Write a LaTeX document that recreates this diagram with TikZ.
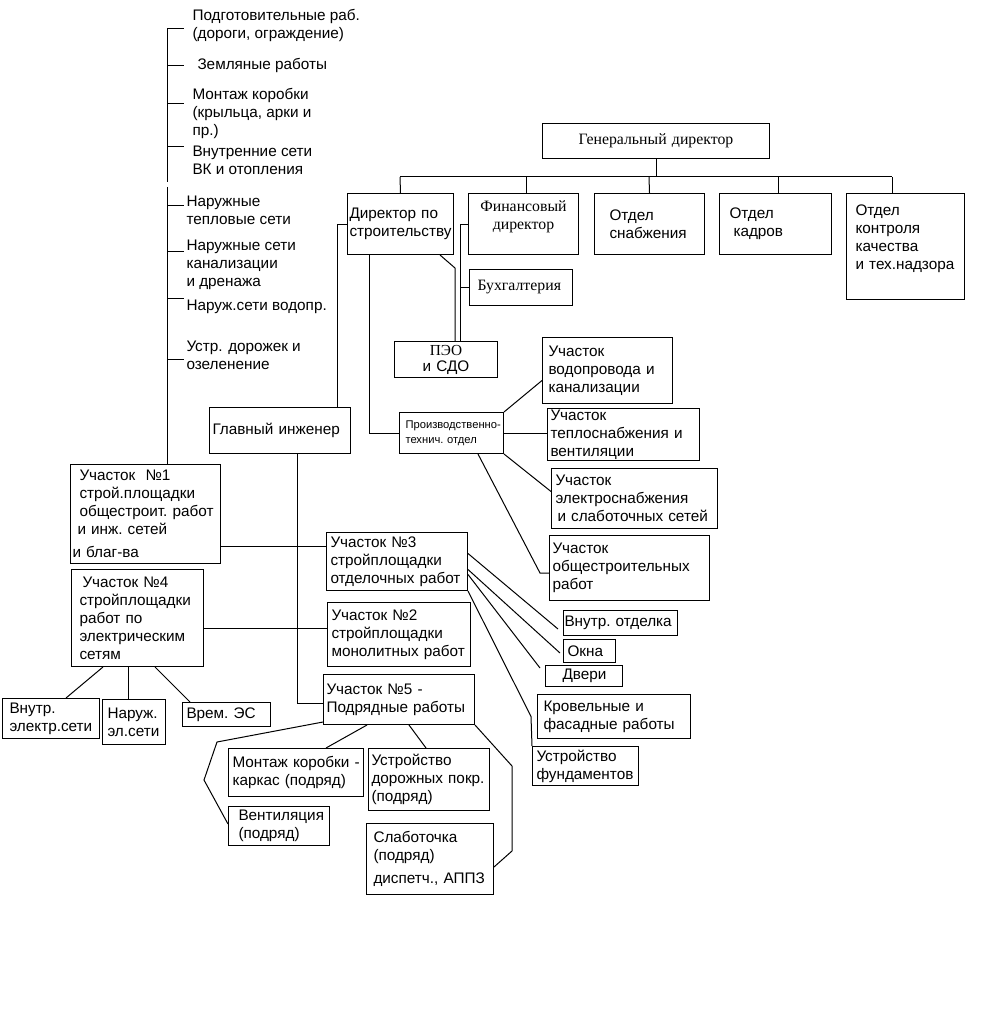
\documentclass[tikz,border=0pt]{standalone}
\usepackage{fontspec}
\setmainfont{Liberation Sans}
\newfontfamily\timesfont{Liberation Serif}
\usepackage{tikz}
\usetikzlibrary{positioning}

\tikzset{
  box/.style={draw, anchor=north west, align=left, inner ysep=0pt, font=\fontsize{15.3}{18}\selectfont},
  serifbox/.style={box, align=center, font=\fontsize{15.8}{18}\timesfont},
  item/.style={anchor=west, align=left, inner sep=0pt, font=\fontsize{15.3}{18}\selectfont},
}

\begin{document}
\begin{tikzpicture}[x=1pt, y=-1pt, line width=1pt]
                    \useasboundingbox (0,0) rectangle (992,1011);

                    \node[serifbox, text width=219pt, inner xsep=4pt, minimum height=35pt] (gd) at (542,123) {Генеральный~директор};
                    \node[box, text width=102pt, inner xsep=2pt, minimum height=61pt] (dirstr) at (347,193) {Директор~по\\строительству};
                    \node[serifbox, text width=102pt, inner xsep=4pt, minimum height=61pt] (findir) at (468,193) {Финансовый\\директор\\\mbox{}};
                    \node[box, text width=80pt, inner xsep=15pt, minimum height=61pt] (snab) at (594,193) {Отдел\\снабжения};
                    \node[box, text width=92pt, inner xsep=10pt, minimum height=61pt] (kadry) at (719,193) {Отдел\\\hspace*{4pt}кадров};
                    \node[box, text width=100pt, inner xsep=9pt, minimum height=106pt] (kontrol) at (846,193) {Отдел\\контроля\\качества\\и~тех.надзора\\\mbox{}};
                    \node[serifbox, align=left, text width=87pt, inner xsep=8pt, minimum height=36pt] (buh) at (469,269) {Бухгалтерия};
                    \node[box, align=center, text width=95pt, inner xsep=4pt, minimum height=36pt] (peo) at (394,341) {{\timesfont ПЭО}\\[-2pt]и~СДО};
                    \node[box, text width=96pt, inner xsep=4pt, minimum height=41pt, font=\fontsize{11.2}{15}\selectfont] (pto) at (399,412) {\hspace*{2pt}\mbox{Производственно-}\\\hspace*{2pt}технич.~отдел};
                    \node[box, text width=135pt, inner xsep=3pt, minimum height=46pt] (gi) at (209,407) {Главный~инженер};

                    \node[box, text width=118pt, inner xsep=6pt, minimum height=66pt] (vodo) at (542,337) {Участок\\водопровода~и\\канализации};
                    \node[box, text width=146pt, inner xsep=3pt, minimum height=52pt] (teplo) at (547,408) {Участок\\теплоснабжения~и\\вентиляции};
                    \node[box, text width=158pt, inner xsep=4pt, minimum height=60pt] (elek) at (551,468) {Участок\\электроснабжения\\\hspace*{2pt}и~слаботочных~сетей};
                    \node[box, text width=154pt, inner xsep=3pt, minimum height=65pt] (obsh) at (549,535) {Участок\\общестроительных\\работ};

                    \node[box, text width=146pt, inner xsep=2pt, minimum height=99pt] (u1) at (70,464) {\hspace*{7pt}Участок~~№1\\\hspace*{7pt}строй.площадки\\\hspace*{7pt}общестроит.~работ\\\hspace*{5pt}и~инж.~сетей\\[5pt]и~благ-ва};
                    \node[box, text width=116pt, inner xsep=8pt, minimum height=97pt] (u4) at (71,569) {\hspace*{3pt}Участок~№4\\стройплощадки\\работ~по\\электрическим\\сетям};
                    \node[box, text width=133pt, inner xsep=4pt, minimum height=58pt] (u3) at (326,532) {Участок~№3\\стройплощадки\\отделочных~работ};
                    \node[box, text width=135pt, inner xsep=4pt, minimum height=64pt] (u2) at (327,602) {Участок~№2\\стройплощадки\\монолитных~работ};
                    \node[box, text width=145pt, inner xsep=3pt, minimum height=50pt] (u5) at (323,674) {\mbox{Участок №5 -}\\Подрядные~работы};

                    \node[box, text width=112pt, inner xsep=1pt, minimum height=25pt] (vnotd) at (563,610) {Внутр.~отделка};
                    \node[box, text width=44pt, inner xsep=4pt, minimum height=23pt] (okna) at (563,639) {Окна};
                    \node[box, text width=43pt, inner xsep=17pt, minimum height=21pt] (dveri) at (545,665) {Двери};
                    \node[box, text width=141pt, inner xsep=6pt, minimum height=44pt] (krov) at (537,694) {Кровельные~и\\фасадные~работы};
                    \node[box, text width=98pt, inner xsep=4pt, minimum height=39pt] (fund) at (532,746) {Устройство\\фундаментов};

                    \node[box, text width=83pt, inner xsep=7pt, minimum height=40pt] (vnel) at (2,698) {Внутр.\\электр.сети};
                    \node[box, text width=53pt, inner xsep=5pt, minimum height=45pt] (narel) at (102,699) {Наруж.\\эл.сети};
                    \node[box, text width=80pt, inner xsep=4pt, minimum height=24pt] (vrem) at (182,702) {Врем.~ЭС};

                    \node[box, text width=129pt, inner xsep=3pt, minimum height=48pt] (montazh) at (228,748) {\hspace*{1pt}\mbox{Монтаж коробки -}\\\hspace*{1pt}каркас~(подряд)};
                    \node[box, text width=115pt, inner xsep=3pt, minimum height=62pt] (doroga) at (368,748) {Устройство\\дорожных~покр.\\(подряд)};
                    \node[box, text width=81pt, inner xsep=10pt, minimum height=39pt] (vent) at (228,806) {Вентиляция\\(подряд)};
                    \node[box, text width=113pt, inner xsep=7pt, minimum height=71pt] (slab) at (366,823) {Слаботочка\\(подряд)\\[5pt]диспетч.,~АППЗ};

                    \node[item] (t1) at (192,25.5) {Подготовительные раб.\\(дороги, ограждение)};
                    \node[item] (t2) at (197,65) {Земляные работы};
                    \node[item] (t3) at (192,113) {Монтаж коробки\\(крыльца, арки и\\пр.)};
                    \node[item] (t4) at (192,160) {Внутренние сети\\ВК и отопления};
                    \node[item] (t5) at (186,210) {Наружные\\тепловые сети};
                    \node[item] (t6) at (186,264.5) {Наружные сети\\канализации\\и дренажа};
                    \node[item] (t7) at (186,307) {Наруж.сети водопр.};
                    \node[item] (t8) at (186,355.5) {Устр. дорожек и\\озеленение};

                    \draw (167,29) -- (167,182);
                    \draw (167,187) -- (167,0 |- u1.north);
                    \foreach \y in {29,66,104,147,205,251,298,359}
                        \draw (167,\y) -- (184,\y);

                    \draw (gd.south) -- (gd.south |- 0,177);
                    \draw (400,177) -- (892,177);
                    \draw (400,177) -- (dirstr.north);
                    \draw (526,177) -- (526,0 |- findir.north);
                    \draw (649,177) -- (snab.north);
                    \draw (778,177) -- (778,0 |- kadry.north);
                    \draw (892,177) -- (892,0 |- kontrol.north);

                    \draw (findir.west) -- (460,0 |- findir.west) -- (460,0 |- peo.north);
                    \draw (buh.west) -- (460,0 |- buh.west);
                    \draw (440,0 |- dirstr.south) -- (455,268) -- (455,0 |- peo.north);
                    \draw (dirstr.west) -- (337,0 |- dirstr.west) -- (337,0 |- gi.north);
                    \draw (369,0 |- dirstr.south) |- (pto.west);

                    \draw (pto.north east) -- ([yshift=-10pt]vodo.west);
                    \draw (pto.east) -- (pto.east -| teplo.west);
                    \draw (pto.south east) -- ([yshift=7pt]elek.west);
                    \draw (478,0 |- pto.south) -- (540,573) -- (obsh.west |- 0,573);

                    \draw (297,0 |- gi.south) |- ([yshift=-4pt]u5.west);
                    \draw ([yshift=-32pt]u1.east) -- ([yshift=-32pt]u1.east -| u3.west);
                    \draw ([yshift=-10pt]u4.east) -- ([yshift=-10pt]u4.east -| u2.west);

                    \draw (103,0 |- u4.south) -- ([xshift=15pt]vnel.north);
                    \draw (128,0 |- u4.south) -- (128,0 |- narel.north);
                    \draw (155,0 |- u4.south) -- (190,0 |- vrem.north);

                    \draw ([yshift=8pt]u3.east) -- ([xshift=-5pt,yshift=-6pt]vnotd.west);
                    \draw ([yshift=-8pt]u3.east) -- ([xshift=-3pt,yshift=-2pt]okna.west);
                    \draw ([yshift=-13pt]u3.east) -- ([xshift=-5pt,yshift=8pt]dveri.west);
                    \draw (u3.south east) -- ([xshift=-6pt]krov.west) -- (fund.north west);

                    \draw (u5.south east) -- (512,766) -- (512,851) -- ([yshift=-8pt]slab.east);
                    \draw ([xshift=-32pt]u5.south) -- ([xshift=30pt]montazh.north);
                    \draw ([xshift=10pt]u5.south) -- ([xshift=-3pt]doroga.north);
                    \draw ([yshift=3pt]u5.south west) -- (217,742) -- (204,780) -- ([yshift=2pt]vent.west);
                \end{tikzpicture}
\end{document}
